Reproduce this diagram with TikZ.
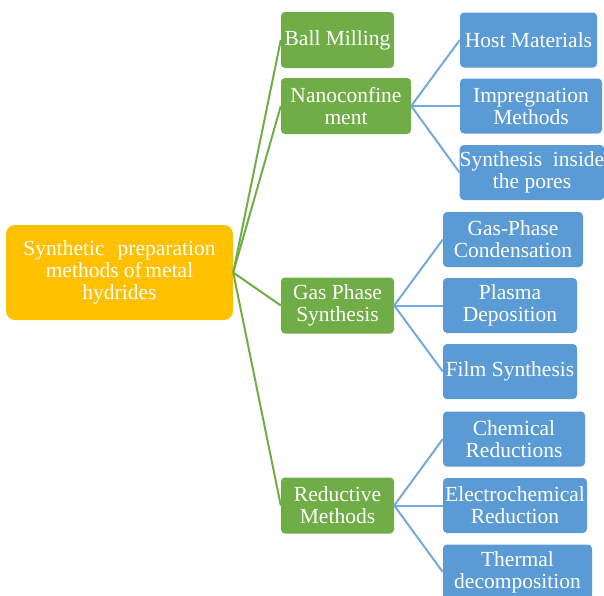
\documentclass[tikz,border=0pt]{standalone}
\usepackage{fontspec}
\setmainfont{Liberation Serif}

\definecolor{rootorange}{HTML}{FFC000}
\definecolor{catgreen}{HTML}{70AD47}
\definecolor{leafblue}{HTML}{5B9BD5}

\tikzset{
    box/.style={rectangle, rounded corners=4pt, inner sep=0pt, align=center,
        text=white, font=\fontsize{21.5}{22}\selectfont},
    rootbox/.style={box, fill=rootorange, rounded corners=9pt},
    catbox/.style={box, fill=catgreen, minimum height=56pt},
    leafbox/.style={box, fill=leafblue, minimum height=55pt},
    greenline/.style={catgreen, line width=2pt},
    blueline/.style={leafblue!85!white, line width=2pt}
}

\begin{document}
\begin{tikzpicture}[x=1pt, y=-1pt]
    \useasboundingbox (0,0) rectangle (604,595);
    % Root
    \node[rootbox, minimum width=227pt, minimum height=95pt] (root) at (119.5,272.5)
        {Synthetic\hspace{0.6em}preparation\\methods of\,metal\\hydrides};
    % Methods
    \node[catbox, minimum width=113pt] (ball) at (337.5,40) {Ball Milling};
    \node[catbox, minimum width=130pt] (nano) at (346,106) {Nanoconfine\\ment};
    \node[catbox, minimum width=113pt] (gas) at (337.5,305.5) {Gas Phase\\Synthesis};
    \node[catbox, minimum width=113pt] (red) at (337.5,505.5) {Reductive\\Methods};
    % Nanoconfinement branch
    \node[leafbox, minimum width=137pt] (host) at (528.5,40) {Host Materials};
    \node[leafbox, minimum width=142pt] (impr) at (531,106) {Impregnation\\Methods};
    \node[leafbox, minimum width=144pt] (pores) at (532,172.5) {Synthesis\hspace{0.5em}inside\\the pores};
    % Gas phase branch
    \node[leafbox, minimum width=140pt] (cond) at (513,239.5) {Gas-Phase\\Condensation};
    \node[leafbox, minimum width=134pt] (plasma) at (510,305.5) {Plasma\\Deposition};
    \node[leafbox, minimum width=134pt] (film) at (510,371.5) {Film Synthesis};
    % Reductive branch
    \node[leafbox, minimum width=142pt] (chem) at (514,439) {Chemical\\Reductions};
    \node[leafbox, minimum width=144pt] (electro) at (515,505.5) {Electrochemical\\Reduction};
    \node[leafbox, minimum width=149pt] (thermal) at (517.5,572) {Thermal\\decomposition};
    % Connectors
    \foreach \c in {ball,nano,gas,red} {
        \draw[greenline] (root.east) -- (\c.west);
    }
    \foreach \c in {host,impr,pores} {
        \draw[blueline] (nano.east) -- (\c.west);
    }
    \foreach \c in {cond,plasma,film} {
        \draw[blueline] (gas.east) -- (\c.west);
    }
    \foreach \c in {chem,electro,thermal} {
        \draw[blueline] (red.east) -- (\c.west);
    }
\end{tikzpicture}
\end{document}
